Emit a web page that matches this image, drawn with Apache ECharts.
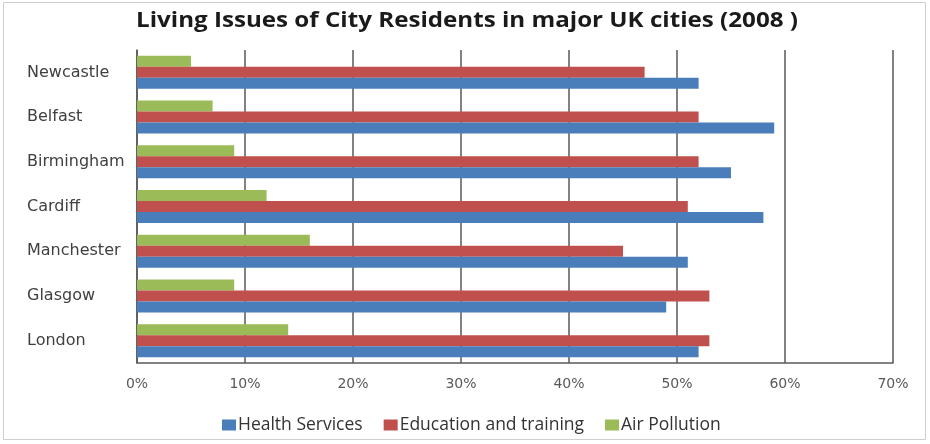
<!DOCTYPE html>
<html>
<head>
<meta charset="utf-8">
<script src="https://cdn.jsdelivr.net/npm/echarts@6/dist/echarts.min.js"></script>
<style>
  html, body { margin: 0; padding: 0; background: #fff; }
  #chart { width: 930px; height: 444px; }
</style>
</head>
<body>
<div id="chart"></div>
<script>
// Cities listed bottom to top along the category axis
const cities = ['London', 'Glasgow', 'Manchester', 'Cardiff', 'Birmingham', 'Belfast', 'Newcastle'];
const healthServices = [52, 49, 51, 58, 55, 59, 52];
const educationTraining = [53, 53, 45, 51, 52, 52, 47];
const airPollution = [14, 9, 16, 12, 9, 7, 5];
const seriesNames = ['Health Services', 'Education and training', 'Air Pollution'];
const chartTitle = 'Living Issues of City Residents in major UK cities (2008 )';
const tickStep = 10;
const axisMax = 70;

const chart = echarts.init(document.getElementById('chart'));

const barSeries = (name, values, color) => ({
  name: name,
  type: 'bar',
  data: values,
  barWidth: 11,
  barGap: '0%',
  itemStyle: { color: color },
  emphasis: { disabled: true }
});

chart.setOption({
  animation: false,
  graphic: [
    {
      // outer frame of the chart
      type: 'rect',
      shape: { x: 3.5, y: 2.5, width: 922, height: 437 },
      style: { fill: 'none', stroke: '#cfcfcf', lineWidth: 1 },
      silent: true
    },
    {
      // title, set slightly wide
      type: 'text',
      x: 467,
      y: 21,
      scaleX: 1.15,
      silent: true,
      style: {
        text: chartTitle,
        align: 'center',
        verticalAlign: 'middle',
        font: 'bold 21px "Open Sans"',
        fill: '#1a1a1a'
      }
    }
  ],
  legend: {
    top: 411,
    left: 217,
    itemWidth: 14,
    itemHeight: 11,
    itemGap: 21,
    icon: 'rect',
    data: seriesNames,
    textStyle: { fontFamily: 'Open Sans', fontSize: 17.5, color: '#333', padding: [0, 0, 0, -3] }
  },
  grid: { left: 137, right: 37, top: 50, bottom: 81 },
  xAxis: {
    type: 'value',
    min: 0,
    max: axisMax,
    interval: tickStep,
    axisLine: { show: true, lineStyle: { color: '#595959', width: 1.5 } },
    axisTick: { show: false },
    splitLine: { show: true, lineStyle: { color: '#595959', width: 1.5 } },
    axisLabel: {
      formatter: '{value}%',
      margin: 14,
      fontFamily: 'DejaVu Sans',
      fontSize: 14,
      color: '#595959'
    }
  },
  yAxis: {
    type: 'category',
    data: cities,
    axisLine: { show: true, lineStyle: { color: '#595959', width: 1.5 } },
    axisTick: { show: false },
    splitLine: { show: false },
    axisLabel: {
      align: 'left',
      margin: 110,
      fontFamily: 'DejaVu Sans',
      fontSize: 16,
      color: '#404040'
    }
  },
  // Air pollution first so it sits at the top of each city group
  series: [
    barSeries(seriesNames[2], airPollution, '#9bbb59'),
    barSeries(seriesNames[1], educationTraining, '#c0504d'),
    barSeries(seriesNames[0], healthServices, '#4a7ebb')
  ]
});
</script>
</body>
</html>
